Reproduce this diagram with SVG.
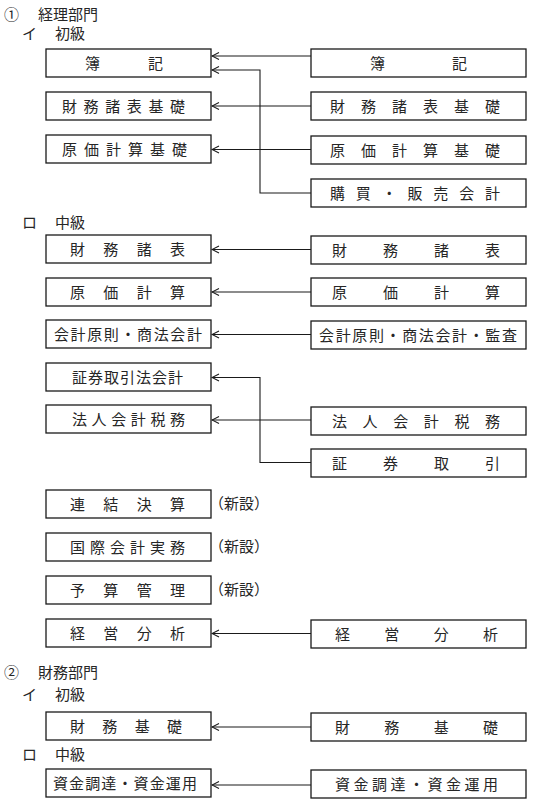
<svg xmlns="http://www.w3.org/2000/svg" width="539" height="807" viewBox="0 0 539 807">
<style>
text{font-family:"Noto Sans CJK JP","Noto Sans CJK SC",sans-serif;font-size:15px;fill:#262626}
.box{fill:#fff;stroke:#1a1a1a;stroke-width:1.3}
.con{fill:none;stroke:#1a1a1a;stroke-width:1.1}
</style>
<defs>
<marker id="arr" viewBox="-9 -5 10 10" markerWidth="10" markerHeight="10" refX="0" refY="0" orient="auto" markerUnits="userSpaceOnUse">
<path d="M-7,-3.5 L0,0 L-7,3.5" fill="none" stroke="#1a1a1a" stroke-width="1.1"/>
</marker>
</defs>
<rect width="539" height="807" fill="#fff"/>
<g id="headers">
<text x="4" y="20" font-size="16">①</text><text x="38" y="20">経理部門</text>
<text x="22" y="39">イ</text><text x="55" y="39">初級</text>
<text x="22" y="228">ロ</text><text x="55" y="228">中級</text>
<text x="4" y="678" font-size="16">②</text><text x="38" y="678">財務部門</text>
<text x="22" y="700">イ</text><text x="55" y="700">初級</text>
<text x="22" y="760">ロ</text><text x="55" y="760">中級</text>
</g>
<g id="connectors">
<line class="con" x1="311" y1="56" x2="212" y2="56" marker-end="url(#arr)"/>
<polyline class="con" points="311,193 260,193 260,70 212,70" marker-end="url(#arr)"/>
<line class="con" x1="311" y1="106" x2="212" y2="106" marker-end="url(#arr)"/>
<line class="con" x1="311" y1="149.5" x2="212" y2="149.5" marker-end="url(#arr)"/>
<line class="con" x1="311" y1="249.5" x2="212" y2="249.5" marker-end="url(#arr)"/>
<line class="con" x1="311" y1="292" x2="212" y2="292" marker-end="url(#arr)"/>
<line class="con" x1="311" y1="334.5" x2="212" y2="334.5" marker-end="url(#arr)"/>
<polyline class="con" points="311,462.5 260,462.5 260,377.5 212,377.5" marker-end="url(#arr)"/>
<line class="con" x1="311" y1="420" x2="212" y2="420" marker-end="url(#arr)"/>
<line class="con" x1="311" y1="633.5" x2="212" y2="633.5" marker-end="url(#arr)"/>
<line class="con" x1="311" y1="727" x2="212" y2="727" marker-end="url(#arr)"/>
<line class="con" x1="311" y1="785" x2="212" y2="785" marker-end="url(#arr)"/>
</g>
<g id="L1"><rect class="box" x="46" y="49" width="165" height="28"/><text x="85" y="68.5" textLength="78" lengthAdjust="spacing">簿記</text></g>
<g id="L2"><rect class="box" x="46" y="92" width="165" height="28"/><text x="62" y="111.5" textLength="123" lengthAdjust="spacing">財務諸表基礎</text></g>
<g id="L3"><rect class="box" x="46" y="135" width="165" height="28"/><text x="62" y="154.5" textLength="125" lengthAdjust="spacing">原価計算基礎</text></g>
<g id="L4"><rect class="box" x="46" y="235" width="165" height="28"/><text x="70" y="254.5" textLength="115" lengthAdjust="spacing">財務諸表</text></g>
<g id="L5"><rect class="box" x="46" y="278" width="165" height="28"/><text x="70" y="297.5" textLength="115" lengthAdjust="spacing">原価計算</text></g>
<g id="L6"><rect class="box" x="46" y="320" width="165" height="28"/><text x="54" y="339.5" textLength="148" lengthAdjust="spacing">会計原則・商法会計</text></g>
<g id="L7"><rect class="box" x="46" y="363" width="165" height="28"/><text x="72" y="382.5" textLength="111" lengthAdjust="spacing">証券取引法会計</text></g>
<g id="L8"><rect class="box" x="46" y="405" width="165" height="28"/><text x="72" y="424.5" textLength="113" lengthAdjust="spacing">法人会計税務</text></g>
<g id="L9"><rect class="box" x="46" y="490" width="165" height="28"/><text x="70" y="509.5" textLength="115" lengthAdjust="spacing">連結決算</text></g>
<g id="L10"><rect class="box" x="46" y="533" width="165" height="28"/><text x="70" y="552.5" textLength="115" lengthAdjust="spacing">国際会計実務</text></g>
<g id="L11"><rect class="box" x="46" y="576" width="165" height="28"/><text x="70" y="595.5" textLength="115" lengthAdjust="spacing">予算管理</text></g>
<g id="L12"><rect class="box" x="46" y="619" width="165" height="28"/><text x="70" y="638.5" textLength="115" lengthAdjust="spacing">経営分析</text></g>
<g id="L13"><rect class="box" x="46" y="712" width="165" height="28"/><text x="70" y="731.5" textLength="112" lengthAdjust="spacing">財務基礎</text></g>
<g id="L14"><rect class="box" x="46" y="769" width="165" height="28"/><text x="53" y="788.5" textLength="144" lengthAdjust="spacing">資金調達・資金運用</text></g>
<g id="new">
<text x="209" y="508.5">（新設）</text>
<text x="209" y="551.5">（新設）</text>
<text x="209" y="594.5">（新設）</text>
</g>
<g id="R1"><rect class="box" x="311" y="49" width="215" height="28"/><text x="370" y="68.5" textLength="97" lengthAdjust="spacing">簿記</text></g>
<g id="R2"><rect class="box" x="311" y="92" width="215" height="28"/><text x="330" y="111.5" textLength="170" lengthAdjust="spacing">財務諸表基礎</text></g>
<g id="R3"><rect class="box" x="311" y="136" width="215" height="28"/><text x="330" y="155.5" textLength="170" lengthAdjust="spacing">原価計算基礎</text></g>
<g id="R4"><rect class="box" x="311" y="179" width="215" height="28"/><text x="330" y="198.5" textLength="170" lengthAdjust="spacing">購買・販売会計</text></g>
<g id="R5"><rect class="box" x="311" y="236" width="215" height="28"/><text x="332" y="255.5" textLength="168" lengthAdjust="spacing">財務諸表</text></g>
<g id="R6"><rect class="box" x="311" y="278" width="215" height="28"/><text x="332" y="297.5" textLength="168" lengthAdjust="spacing">原価計算</text></g>
<g id="R7"><rect class="box" x="311" y="321" width="215" height="28"/><text x="319" y="340.5" textLength="198" lengthAdjust="spacing">会計原則・商法会計・監査</text></g>
<g id="R8"><rect class="box" x="311" y="407" width="215" height="28"/><text x="332" y="426.5" textLength="168" lengthAdjust="spacing">法人会計税務</text></g>
<g id="R9"><rect class="box" x="311" y="449" width="215" height="28"/><text x="332" y="468.5" textLength="168" lengthAdjust="spacing">証券取引</text></g>
<g id="R10"><rect class="box" x="311" y="620" width="215" height="28"/><text x="335" y="639.5" textLength="163" lengthAdjust="spacing">経営分析</text></g>
<g id="R11"><rect class="box" x="311" y="713" width="215" height="28"/><text x="335" y="732.5" textLength="163" lengthAdjust="spacing">財務基礎</text></g>
<g id="R12"><rect class="box" x="311" y="770" width="215" height="28"/><text x="335" y="789.5" textLength="163" lengthAdjust="spacing">資金調達・資金運用</text></g>
</svg>
